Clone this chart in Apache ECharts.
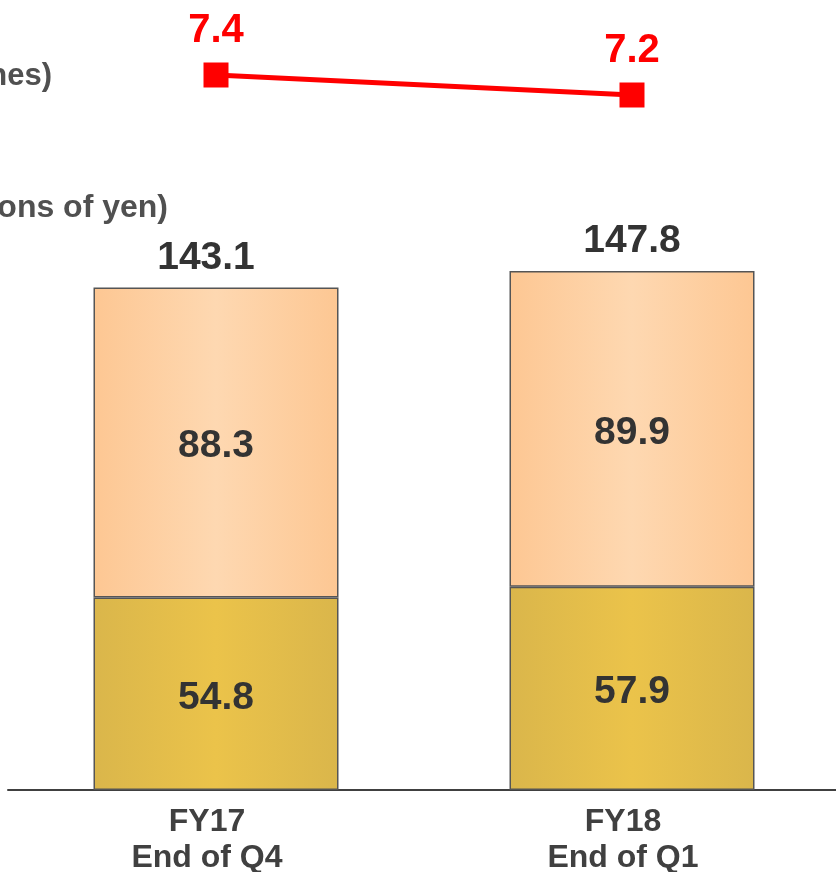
<!DOCTYPE html>
<html>
<head>
<meta charset="utf-8">
<style>
  html, body { margin: 0; padding: 0; background: #ffffff; }
  #chart { width: 836px; height: 872px; }
</style>
<script src="https://cdn.jsdelivr.net/npm/echarts@6/dist/echarts.min.js"></script>
</head>
<body>
<div id="chart"></div>
<script>
// Period labels (two lines per category)
const periodYears = ['FY17', 'FY18'];
const periodEnds = ['End of Q4', 'End of Q1'];

// Balance components, billions of yen
const lowerValues = [54.8, 57.9];
const upperValues = [88.3, 89.9];

// Ratio plotted above the bars
const ratioValues = [7.4, 7.2];

const FONT = '"Liberation Sans", Arial, sans-serif';
const categories = periodYears.map((y, i) => y + '\n' + periodEnds[i]);
const totals = lowerValues.map((v, i) => (v + upperValues[i]).toFixed(1));

const chart = echarts.init(document.getElementById('chart'), null, { renderer: 'canvas' });

const goldFill = new echarts.graphic.LinearGradient(0, 0, 1, 0, [
  { offset: 0, color: '#DAB64B' },
  { offset: 0.5, color: '#EBC34A' },
  { offset: 1, color: '#DAB64B' }
]);
const peachFill = new echarts.graphic.LinearGradient(0, 0, 1, 0, [
  { offset: 0, color: '#FDC793' },
  { offset: 0.5, color: '#FED8B1' },
  { offset: 1, color: '#FDC793' }
]);

const insideLabel = {
  show: true,
  position: 'inside',
  offset: [0, 4],
  fontFamily: FONT,
  fontSize: 39,
  fontWeight: 'bold',
  color: '#333333'
};

const option = {
  backgroundColor: '#ffffff',
  animation: false,
  textStyle: { fontFamily: FONT },
  grid: [
    { left: 8, width: 832, top: 0, bottom: 82, outerBoundsMode: 'none', containLabel: false },
    { left: 8, width: 832, top: 15, height: 200, outerBoundsMode: 'none', containLabel: false }
  ],
  xAxis: [
    {
      type: 'category',
      gridIndex: 0,
      data: categories,
      axisLine: { show: true, lineStyle: { color: '#404040', width: 2 } },
      axisTick: { show: false },
      axisLabel: {
        fontFamily: FONT,
        fontSize: 32,
        fontWeight: 'bold',
        color: '#404040',
        lineHeight: 36,
        margin: 14,
        padding: [0, 18, 0, 0]
      }
    },
    {
      type: 'category',
      gridIndex: 1,
      data: categories,
      show: false
    }
  ],
  yAxis: [
    { type: 'value', gridIndex: 0, min: 0, max: 225, show: false, splitLine: { show: false } },
    { type: 'value', gridIndex: 1, min: 6, max: 8, show: false, splitLine: { show: false } }
  ],
  graphic: [
    {
      type: 'text',
      x: 52, y: 76,
      style: {
        text: '(Million tonnes)',
        font: 'bold 31px ' + FONT,
        fill: '#505050',
        align: 'right',
        verticalAlign: 'middle'
      }
    },
    {
      type: 'text',
      x: 168, y: 208,
      style: {
        text: '(Billions of yen)',
        font: 'bold 32px ' + FONT,
        fill: '#505050',
        align: 'right',
        verticalAlign: 'middle'
      }
    }
  ],
  series: [
    {
      type: 'bar',
      xAxisIndex: 0, yAxisIndex: 0,
      stack: 'balance',
      barWidth: 245,
      data: lowerValues,
      itemStyle: { color: goldFill, borderColor: '#555555', borderWidth: 1.5 },
      label: Object.assign({}, insideLabel)
    },
    {
      type: 'bar',
      xAxisIndex: 0, yAxisIndex: 0,
      stack: 'balance',
      barWidth: 245,
      data: upperValues,
      itemStyle: { color: peachFill, borderColor: '#555555', borderWidth: 1.5 },
      label: Object.assign({}, insideLabel)
    },
    {
      // zero-height cap carrying the stack total label
      type: 'bar',
      xAxisIndex: 0, yAxisIndex: 0,
      stack: 'balance',
      barWidth: 245,
      data: totals.map((t, i) => ({ value: 0, label: { offset: [i === 0 ? -10 : 0, 0] } })),
      itemStyle: { color: 'transparent', borderWidth: 0 },
      label: {
        show: true,
        position: 'top',
        distance: 10,
        fontFamily: FONT,
        fontSize: 39,
        fontWeight: 'bold',
        color: '#333333',
        formatter: p => totals[p.dataIndex]
      }
    },
    {
      type: 'line',
      xAxisIndex: 1, yAxisIndex: 1,
      data: ratioValues,
      symbol: 'rect',
      symbolSize: 25,
      lineStyle: { color: '#FF0000', width: 5 },
      itemStyle: { color: '#FF0000' },
      label: {
        show: true,
        position: 'top',
        distance: 12,
        fontFamily: FONT,
        fontSize: 40,
        fontWeight: 'bold',
        color: '#FF0000',
        formatter: p => p.value.toFixed(1)
      }
    }
  ]
};

chart.setOption(option);
</script>
</body>
</html>
